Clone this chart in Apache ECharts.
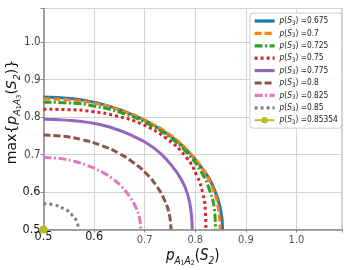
<!DOCTYPE html>
<html>
<head>
<meta charset="utf-8">
<script src="https://cdn.jsdelivr.net/npm/echarts@6/dist/echarts.min.js"></script>
<style>html,body{margin:0;padding:0;background:#fff}#c{width:350px;height:270px}</style>
</head>
<body>
<div id="c"></div>
<script>
// legend values p(S3)
const pLabels = ['0.675','0.7','0.725','0.75','0.775','0.8','0.825','0.85','0.85354'];
// tick labels
const xTicks = [0.5,0.6,0.7,0.8,0.9,1.0];
const yTicks = [0.5,0.6,0.7,0.8,0.9,1.0];
// curves [x, y]
const c0675 = [[0.5,0.854],[0.553,0.850],[0.606,0.838],[0.659,0.816],[0.712,0.783],[0.750,0.750],[0.783,0.712],[0.816,0.659],[0.838,0.606],[0.850,0.553],[0.854,0.5]];
const c0700 = [[0.5,0.849],[0.552,0.846],[0.605,0.836],[0.657,0.816],[0.709,0.786],[0.751,0.751],[0.786,0.709],[0.816,0.657],[0.836,0.605],[0.846,0.552],[0.849,0.5]];
const c0725 = [[0.5,0.840],[0.551,0.838],[0.602,0.829],[0.653,0.812],[0.704,0.784],[0.748,0.748],[0.784,0.704],[0.812,0.653],[0.829,0.602],[0.838,0.551],[0.840,0.5]];
const c0750 = [[0.5,0.821],[0.548,0.820],[0.596,0.815],[0.644,0.803],[0.693,0.782],[0.743,0.743],[0.782,0.693],[0.803,0.644],[0.815,0.596],[0.820,0.548],[0.821,0.5]];
const c0775 = [[0.5,0.794],[0.544,0.792],[0.588,0.786],[0.632,0.773],[0.676,0.750],[0.718,0.718],[0.750,0.676],[0.773,0.632],[0.786,0.588],[0.792,0.544],[0.794,0.5]];
const c0800 = [[0.5,0.752],[0.538,0.749],[0.576,0.740],[0.613,0.725],[0.651,0.702],[0.678,0.678],[0.702,0.651],[0.725,0.613],[0.740,0.576],[0.749,0.538],[0.752,0.5]];
const c0825 = [[0.5,0.692],[0.529,0.690],[0.558,0.683],[0.586,0.671],[0.615,0.654],[0.636,0.636],[0.654,0.615],[0.671,0.586],[0.683,0.558],[0.690,0.529],[0.692,0.5]];
const c0850 = [[0.5,0.569],[0.521,0.566],[0.541,0.555],[0.549,0.549],[0.555,0.541],[0.566,0.521],[0.569,0.5]];
const c085354 = [[0.5,0.5]];

const curves = [c0675,c0700,c0725,c0750,c0775,c0800,c0825,c0850,c085354];
const colors = ['#1f77b4','#ff7f0e','#2ca02c','#d62728','#9467bd','#8c564b','#e377c2','#7f7f7f','#bcbd22'];
const DASHED = [7,3], DASHDOT = [8,2.5,2,2.5], DOTTED = [3,3];
const dashes = ['solid',DASHED,DASHDOT,DOTTED,'solid',DASHED,DASHDOT,DOTTED,'solid'];

const FONT = 'DejaVu Sans';
const NARROW = "'DejaVu Sans Condensed', 'DejaVu Sans'";
const series = curves.map((d,i) => {
  const last = i === curves.length - 1;
  return {
    name: pLabels[i],
    type: 'line',
    data: d,
    smooth: true,
    clip: true,
    symbol: last ? 'circle' : 'none',
    symbolSize: 8,
    showSymbol: last,
    itemStyle: {color: colors[i]},
    lineStyle: {color: colors[i], width: last ? 1.5 : 3, type: dashes[i], cap: 'butt'},
    emphasis: {disabled: true}
  };
});

function tickFmt(ticks){
  return function(v){
    for (const t of ticks){
      if (Math.abs(v - t) < 1e-6){
        const s = t.toFixed(1);
        return t < 0.65 ? '{b|' + s + '}' : '{r|' + s + '}';
      }
    }
    return '';
  };
}

const legendData = pLabels.map((n,i) => i === pLabels.length - 1
  ? {name: n, lineStyle: {width: 2}}
  : {name: n, itemStyle: {opacity: 0}, lineStyle: {width: 3.2}});

const chart = echarts.init(document.getElementById('c'), null, {renderer:'canvas'});
chart.setOption({
  animation: false,
  backgroundColor: '#fff',
  grid: {left: 43.5, right: 8, top: 8.5, bottom: 40.5, show: true, borderColor: '#aaa', borderWidth: 1,
         containLabel: false, outerBoundsMode: 'none'},
  xAxis: {
    type: 'value', min: 0.5, max: 1.09, interval: 0.1,
    axisLine: {show: true, lineStyle: {color: '#888', width: 1.5}},
    axisTick: {show: true, length: 3, lineStyle: {color: '#888'}},
    splitLine: {show: true, lineStyle: {color: '#d4d4d4', width: 1}},
    axisLabel: {
      margin: 1, formatter: tickFmt(xTicks), fontFamily: NARROW,
      rich: {
        b: {fontSize: 12.5, color: '#111', fontFamily: NARROW},
        r: {fontSize: 11, color: '#555', fontFamily: NARROW, padding: [4,0,0,0]}
      }
    },
    name: '{i|p}{s|A}{ss|1}{s|A}{ss|2}({i|S}{s|2})',
    nameLocation: 'middle', nameGap: 17, nameMoveOverlap: false,
    nameTextStyle: {
      fontSize: 15, color: '#111', fontFamily: NARROW, lineHeight: 20,
      rich: {
        i: {fontSize: 15, fontStyle: 'italic', color: '#111', fontFamily: NARROW, lineHeight: 20},
        s: {fontSize: 10, fontStyle: 'italic', color: '#111', fontFamily: NARROW, verticalAlign: 'bottom', lineHeight: 14},
        ss: {fontSize: 7, color: '#111', fontFamily: NARROW, verticalAlign: 'bottom', lineHeight: 11}
      }
    }
  },
  yAxis: {
    type: 'value', min: 0.5, max: 1.09, interval: 0.1,
    axisLine: {show: true, lineStyle: {color: '#888', width: 1.5}},
    axisTick: {show: true, length: 3, lineStyle: {color: '#888'}},
    splitLine: {show: true, lineStyle: {color: '#d4d4d4', width: 1}},
    axisLabel: {
      margin: 3, formatter: tickFmt(yTicks), fontFamily: NARROW,
      rich: {
        b: {fontSize: 12.5, color: '#111', fontFamily: NARROW},
        r: {fontSize: 11.5, color: '#444', fontFamily: NARROW}
      }
    },
    name: 'max{{i|p}{s|A}{ss|1}{s|A}{ss|3}({i|S}{s|2})}',
    nameLocation: 'middle', nameGap: 21, nameRotate: 90, nameMoveOverlap: false,
    nameTextStyle: {
      fontSize: 14, color: '#111', fontFamily: FONT, lineHeight: 20, padding: [0,0,0,14],
      rich: {
        i: {fontSize: 14, fontStyle: 'italic', color: '#111', fontFamily: FONT, lineHeight: 20},
        s: {fontSize: 9.5, fontStyle: 'italic', color: '#111', fontFamily: FONT, verticalAlign: 'bottom', lineHeight: 14},
        ss: {fontSize: 6.5, color: '#111', fontFamily: FONT, verticalAlign: 'bottom', lineHeight: 11}
      }
    }
  },
  legend: {
    orient: 'vertical', left: 250, top: 13,
    padding: [3, 4, 3, 3], itemWidth: 20, itemHeight: 8, itemGap: 2.4,
    borderColor: '#ccc', borderWidth: 1, borderRadius: 3,
    backgroundColor: 'rgba(255,255,255,0.85)',
    data: legendData,
    formatter: n => '{i|p}({i|S}{s|3}) =' + n,
    textStyle: {
      fontSize: 8.3, color: '#222', fontFamily: NARROW, lineHeight: 10,
      rich: {
        i: {fontSize: 8.3, fontStyle: 'italic', color: '#222', fontFamily: NARROW, lineHeight: 10},
        s: {fontSize: 6, color: '#222', fontFamily: NARROW, verticalAlign: 'bottom', lineHeight: 8}
      }
    }
  },
  series: series
});
</script>
</body>
</html>
